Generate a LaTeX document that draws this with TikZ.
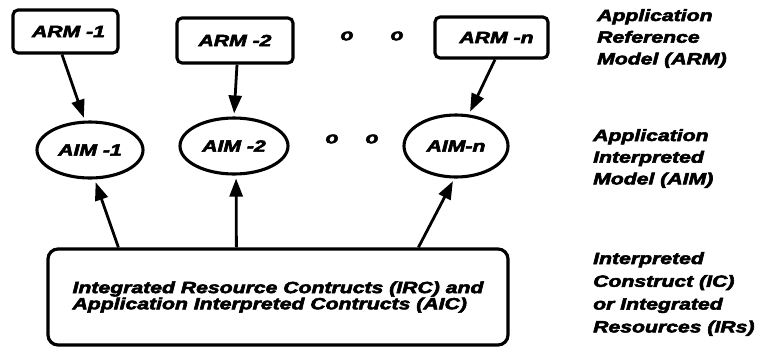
\documentclass[tikz,border=0pt]{standalone}
\usepackage{fontspec}
\usepackage{graphicx}
\setmainfont{Liberation Sans}[BoldItalicFeatures={FakeBold=3}]
\usetikzlibrary{shapes.geometric,arrows.meta,calc}
% heavy, extended lettering
\newcommand\wideword[1]{\scalebox{1.3}[1]{#1}}
\begin{document}
\begin{tikzpicture}[x=1pt,y=-1pt,
  lbl/.style={font=\fontsize{16.3}{16}\selectfont\bfseries\itshape},
  armbox/.style={draw, line width=3.1pt, rounded corners=5pt, inner sep=0pt, lbl},
  aimell/.style={draw, ellipse, line width=3.1pt, inner sep=0pt, lbl},
  basebox/.style={draw, line width=3.2pt, rounded corners=10pt, inner sep=0pt, align=left,
    font=\fontsize{16.3}{14.7}\selectfont\bfseries\itshape},
  link/.style={line width=2.8pt, -{Triangle[length=18pt,width=13pt]}, shorten >=3pt},
  side/.style={anchor=north west, inner sep=0pt, align=left},
  dotmark/.style={inner sep=0pt, lbl}]
\useasboundingbox (0,0) rectangle (757,349);

% reference models
\node[armbox, minimum width=105pt, minimum height=43pt] (arm1) at (65.5,31.5) {\hspace*{6pt}\wideword{ARM -1}};
\node[armbox, minimum width=116pt, minimum height=45pt] (arm2) at (235,40.5) {\wideword{ARM -2}};
\node[armbox, minimum width=113pt, minimum height=41pt] (armn) at (491.5,37.5) {\hspace*{10pt}\wideword{ARM -n}};
\node[dotmark] (ad1) at (347,36) {\wideword{o}};
\node[dotmark] (ad2) at (397,36) {\wideword{o}};

% interpreted models
\node[aimell, minimum width=106pt, minimum height=56pt] (aim1) at (90,150) {\wideword{AIM -1}};
\node[aimell, minimum width=108pt, minimum height=56pt] (aim2) at (234,146) {\wideword{AIM -2}};
\node[aimell, minimum width=104pt, minimum height=62pt] (aimn) at (456,146) {\wideword{AIM-n}};
\node[dotmark] (md1) at (332,139) {\wideword{o}};
\node[dotmark] (md2) at (372,139) {\wideword{o}};

% resource constructs
\node[basebox, minimum width=460pt, minimum height=96pt] (irc) at (278,297)
  {\wideword{Integrated Resource Contructs (IRC) and}\\
   \wideword{Application Interpreted Contructs (AIC)}};

% ARM -> AIM
\draw[link] ($(arm1.south)+(-3.5,0)$) -- (aim1.100);
\draw[link] ($(arm2.south)+(2,0)$) -- (aim2.north);
\draw[link] ($(armn.south)+(3.5,0)$) -- (aimn.68);

% constructs -> AIM
\draw[link] ($(irc.north west)+(72,0)$) -- (aim1.-81);
\draw[link] ($(irc.north west)+(190,0)$) -- (aim2.-86);
\draw[link] ($(irc.north west)+(372,0)$) -- (aimn.-93);

% level captions
\node[side, font=\fontsize{16.3}{21.7}\selectfont\bfseries\itshape] (capa) at (597,9)
  {\wideword{Application}\\ \wideword{Reference}\\ \wideword{Model (ARM)}};
\node[side, font=\fontsize{16.3}{21.7}\selectfont\bfseries\itshape] (capb) at (593,129)
  {\wideword{Application}\\ \wideword{Interpreted}\\ \wideword{Model (AIM)}};
\node[side, font=\fontsize{16.3}{22.8}\selectfont\bfseries\itshape] (capc) at (593,252)
  {\wideword{Interpreted}\\ \wideword{Construct (IC)}\\ \wideword{or Integrated}\\ \wideword{Resources (IRs)}};
\end{tikzpicture}
\end{document}
